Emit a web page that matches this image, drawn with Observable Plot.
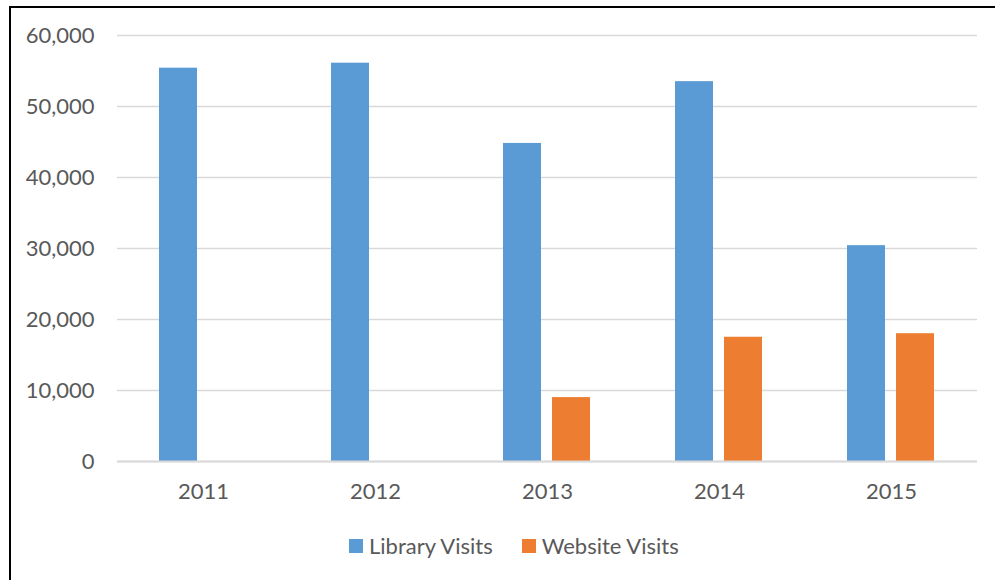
<!DOCTYPE html>
<html>
<head>
<meta charset="utf-8">
<script src="https://cdn.jsdelivr.net/npm/d3@7"></script>
<script src="https://cdn.jsdelivr.net/npm/@observablehq/plot@0.6"></script>
<style>
  html, body { margin: 0; padding: 0; background: #fff; }
  body { width: 995px; height: 580px; position: relative; overflow: hidden; font-family: Lato, "Open Sans", sans-serif; }
  #frame { position: absolute; left: 9px; top: 6px; width: 990px; height: 580px; border-left: 2px solid #000; border-top: 2px solid #000; box-sizing: border-box; }
  #chart { position: absolute; left: 0; top: 0; }
  #legend { position: absolute; left: 349px; top: 532px; display: flex; align-items: center; font-size: 22px; color: #595959; }
  .item { display: flex; align-items: center; margin-right: 29px; }
  .sw { width: 14px; height: 14px; margin-right: 6px; }
</style>
</head>
<body>
<div id="frame"></div>
<div id="chart"></div>
<div id="legend"></div>
<script>
const years = ["2011", "2012", "2013", "2014", "2015"];
const seriesNames = ["Library Visits", "Website Visits"];
const libraryVisits = [55400, 56100, 44800, 53500, 30400];
const websiteVisits = [null, null, 9000, 17500, 18000];
const colors = ["#5b9bd5", "#ed7d31"];
const yTicks = [0, 10000, 20000, 30000, 40000, 50000, 60000];

const rows = [];
years.forEach((y, i) => {
  if (libraryVisits[i] != null) rows.push({year: y, series: seriesNames[0], value: libraryVisits[i]});
  if (websiteVisits[i] != null) rows.push({year: y, series: seriesNames[1], value: websiteVisits[i]});
});

const chart = Plot.plot({
  width: 995,
  height: 520,
  marginLeft: 116,
  marginRight: 17,
  marginTop: 35,
  marginBottom: 59,
  style: {fontFamily: "Lato, 'Open Sans', sans-serif", fontSize: "22px", color: "#595959", background: "transparent"},
  fx: {domain: years, padding: 0, label: null, axis: "bottom", tickSize: 0, tickPadding: 22},
  x: {domain: seriesNames, axis: null, paddingInner: 0.222, paddingOuter: 0.852},
  y: {domain: [0, 60000], axis: null},
  color: {domain: seriesNames, range: colors},
  marks: [
    Plot.gridY(yTicks, {stroke: "#d9d9d9", strokeOpacity: 1, strokeWidth: 1.3}),
    Plot.barY(rows, {fx: "year", x: "series", y: "value", fill: "series"}),
    Plot.ruleY([0], {stroke: "#d9d9d9", strokeWidth: 2}),
    Plot.axisY(yTicks, {tickSize: 0, tickPadding: 23, tickFormat: d3.format(","), label: null, fill: "#595959"})
  ]
});
document.getElementById("chart").appendChild(chart);

const legend = document.getElementById("legend");
seriesNames.forEach((name, i) => {
  const item = document.createElement("div");
  item.className = "item";
  const sw = document.createElement("span");
  sw.className = "sw";
  sw.style.background = colors[i];
  const t = document.createElement("span");
  t.textContent = name;
  item.appendChild(sw);
  item.appendChild(t);
  legend.appendChild(item);
});
</script>
</body>
</html>
